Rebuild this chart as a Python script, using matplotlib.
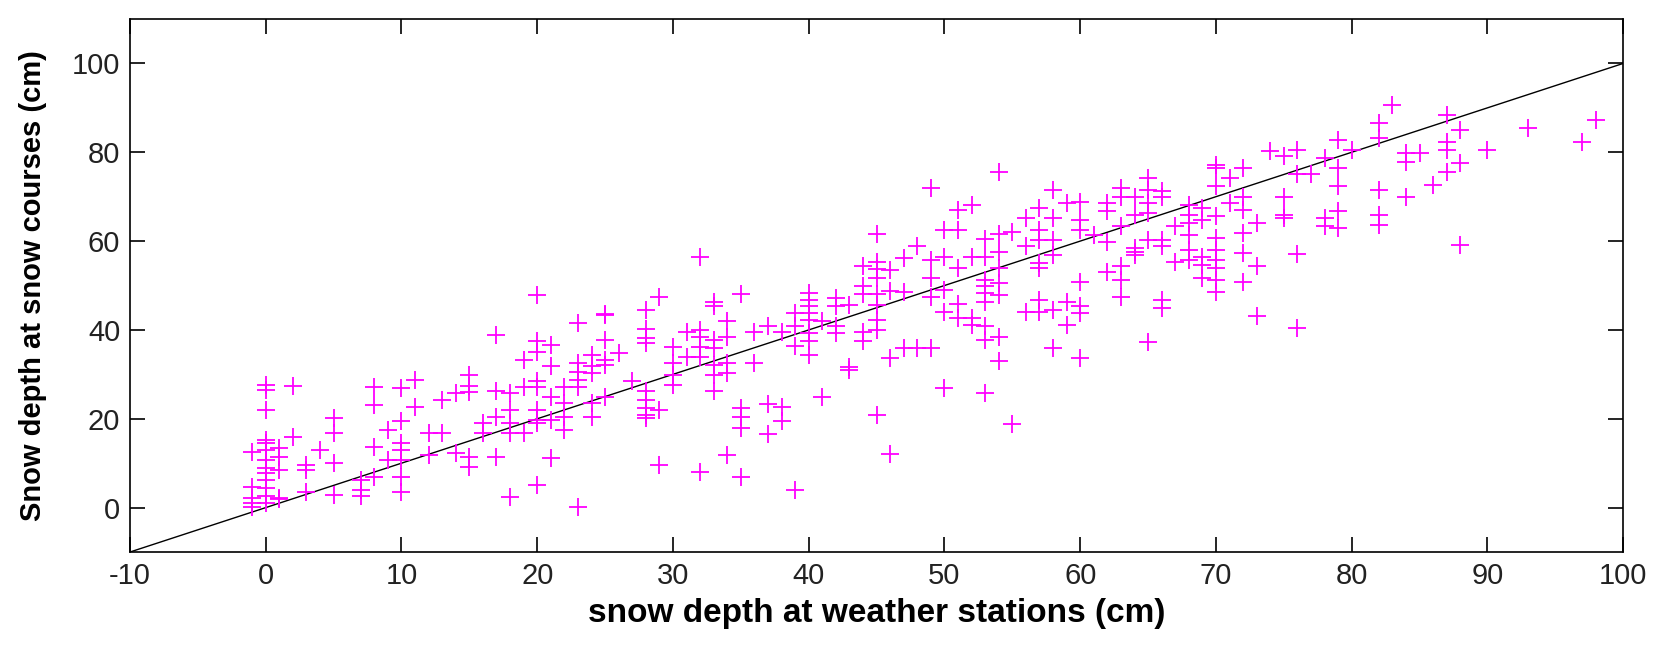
import matplotlib
matplotlib.use('Agg')
import matplotlib.pyplot as plt

# snow depth at weather stations (cm), one line per column of points
station_depth = [
    -1, -1, -1, -1, -1,
    0, 0, 0, 0, 0, 0, 0, 0, 0, 0, 0, 0, 0,
    1, 1, 1, 1, 1,
    2, 2,
    3, 3, 3,
    4,
    5, 5, 5, 5,
    7, 7, 7,
    8, 8, 8, 8,
    9, 9,
    10, 10, 10, 10, 10, 10, 10,
    11, 11,
    12, 12,
    13, 13,
    14, 14,
    15, 15, 15, 15, 15,
    16, 16,
    17, 17, 17, 17,
    18, 18, 18, 18, 18,
    19, 19, 19,
    20, 20, 20, 20, 20, 20, 20, 20, 20,
    21, 21, 21, 21, 21,
    22, 22, 22, 22,
    23, 23, 23, 23, 23, 23,
    24, 24, 24, 24, 24,
    25, 25, 25, 25, 25, 25,
    26,
    27,
    28, 28, 28, 28, 28, 28, 28, 28, 28,
    29, 29, 29,
    30, 30, 30, 30,
    31, 31,
    32, 32, 32, 32, 32, 32,
    33, 33, 33, 33, 33, 33, 33,
    34, 34, 34, 34, 34,
    35, 35, 35, 35, 35,
    36, 36,
    37, 37, 37,
    38, 38, 38,
    39, 39, 39, 39,
    40, 40, 40, 40, 40, 40, 40, 40,
    41, 41,
    42, 42, 42, 42,
    43, 43, 43,
    44, 44, 44, 44, 44,
    45, 45, 45, 45, 45, 45, 45, 45, 45,
    46, 46, 46, 46,
    47, 47, 47,
    48, 48,
    49, 49, 49, 49, 49,
    50, 50, 50, 50, 50,
    51, 51, 51, 51, 51,
    52, 52, 52, 52,
    53, 53, 53, 53, 53, 53, 53, 53, 53,
    54, 54, 54, 54, 54, 54, 54, 54,
    55, 55,
    56, 56, 56,
    57, 57, 57, 57, 57, 57, 57,
    58, 58, 58, 58, 58, 58,
    59, 59, 59,
    60, 60, 60, 60, 60, 60, 60,
    61,
    62, 62, 62, 62,
    63, 63, 63, 63, 63, 63,
    64, 64, 64, 64, 64,
    65, 65, 65, 65, 65, 65,
    66, 66, 66, 66, 66, 66,
    67, 67,
    68, 68, 68, 68, 68, 68,
    69, 69, 69, 69, 69,
    70, 70, 70, 70, 70, 70, 70, 70, 70, 70,
    71, 71,
    72, 72, 72, 72, 72, 72,
    73, 73, 73,
    74,
    75, 75, 75, 75,
    76, 76, 76, 76,
    77,
    78, 78, 78,
    79, 79, 79, 79, 79,
    80,
    82, 82, 82, 82, 82,
    83,
    84, 84, 84,
    85,
    86,
    87, 87, 87, 87,
    88, 88, 88,
    90,
    93,
    97,
    98,
]

# snow depth at snow courses (cm), same order as above
course_depth = [
    12.6, 4.7, 2.1, 1.0, 0.2,
    27.6, 26.5, 22.0, 15.2, 14.5, 13.0, 10.8, 8.9, 7.8, 6.3, 4.4, 2.5, 1.0,
    13.4, 11.5, 8.5, 2.1, 2.0,
    27.3, 15.9,
    9.6, 8.5, 3.6,
    13.0,
    20.1, 16.7, 10.0, 2.8,
    4.0, 2.5, 6.3,
    27.2, 23.0, 13.7, 7.0,
    17.5, 10.8,
    26.9, 19.4, 14.5, 13.0, 10.8, 7.0, 3.6,
    28.7, 22.7,
    16.7, 11.9,
    24.2, 16.7,
    25.7, 12.2,
    29.9, 27.3, 26.0, 11.4, 9.2,
    19.0, 16.7,
    38.9, 26.2, 20.5, 11.4,
    25.7, 22.0, 19.0, 16.7, 2.4,
    33.2, 27.2, 16.7,
    47.9, 37.4, 35.1, 28.4, 27.2, 22.0, 19.7, 19.0, 5.1,
    36.6, 31.8, 25.0, 19.7, 11.1,
    27.2, 23.5, 20.5, 17.5,
    41.5, 32.5, 30.6, 28.8, 27.2, 0.2,
    34.4, 31.8, 30.3, 23.5, 20.5,
    43.6, 43.3, 37.7, 33.2, 32.1, 25.0,
    34.8,
    28.4,
    44.4, 40.3, 38.1, 37.0, 26.2, 24.2, 22.4, 20.9, 20.2,
    47.5, 22.0, 9.6,
    36.2, 32.5, 29.9, 27.6,
    39.6, 34.0,
    56.5, 40.0, 38.5, 36.2, 34.0, 8.1,
    46.4, 45.3, 37.7, 35.9, 32.1, 29.9, 26.2,
    41.9, 38.5, 32.5, 30.3, 11.8,
    48.2, 22.4, 20.5, 17.9, 7.0,
    39.6, 32.5,
    40.8, 23.3, 16.5,
    39.6, 22.7, 19.6,
    43.8, 40.8, 36.3, 4.0,
    48.3, 46.8, 45.3, 43.8, 42.3, 39.3, 37.4, 34.4,
    41.9, 25.0,
    47.2, 45.3, 40.8, 39.3,
    45.6, 31.7, 31.0,
    54.4, 49.8, 48.0, 39.6, 37.4,
    61.7, 55.2, 53.7, 51.8, 48.0, 45.6, 42.2, 39.9, 20.9,
    53.5, 48.8, 33.6, 12.0,
    56.2, 48.6, 35.9,
    58.8, 35.9,
    71.9, 55.8, 51.7, 47.5, 36.0,
    62.5, 56.5, 48.9, 44.0, 27.0,
    67.0, 62.5, 53.9, 45.9, 42.7,
    68.2, 56.5, 42.7, 41.2,
    60.4, 56.5, 51.3, 49.8, 48.3, 46.4, 40.8, 37.8, 25.9,
    75.6, 61.7, 57.6, 53.9, 50.5, 47.9, 38.5, 32.9,
    62.1, 18.9,
    65.1, 58.8, 44.1,
    67.4, 62.5, 60.3, 55.0, 53.9, 46.8, 44.1,
    71.5, 65.1, 60.3, 56.9, 44.5, 35.9,
    68.5, 46.4, 41.2,
    68.9, 64.8, 62.5, 50.9, 45.3, 43.8, 33.6,
    61.4,
    68.5, 66.7, 59.9, 53.1,
    71.9, 70.0, 63.3, 54.3, 51.3, 47.5,
    70.0, 65.9, 58.4, 57.6, 56.9,
    74.2, 71.5, 68.5, 66.3, 60.3, 37.3,
    71.2, 70.0, 60.3, 58.8, 46.8, 44.9,
    63.3, 55.4,
    68.2, 65.9, 64.1, 61.4, 58.0, 55.8,
    67.4, 64.8, 56.5, 54.7, 51.7,
    77.2, 76.4, 72.3, 65.6, 60.7, 58.0, 55.8, 53.9, 51.3, 48.6,
    74.2, 68.5,
    76.5, 70.0, 67.1, 61.8, 57.3, 50.9,
    64.0, 54.3, 43.1,
    80.2,
    79.1, 70.0, 65.9, 65.1,
    80.5, 75.0, 57.0, 40.4,
    75.0,
    78.7, 65.1, 63.3,
    82.8, 76.5, 72.3, 66.7, 62.9,
    80.5,
    86.5, 83.2, 71.5, 65.9, 63.7,
    90.7,
    79.8, 77.9, 70.0,
    79.8,
    72.7,
    88.4, 82.4, 80.5, 75.6,
    85.0, 77.5, 59.1,
    80.5,
    85.4,
    82.4,
    87.3,
]

# 1:1 reference line
line_ends = [-10, 100]

plt.rcParams['font.family'] = ['Liberation Sans', 'DejaVu Sans']
plt.rcParams['axes.unicode_minus'] = False

fig = plt.figure(figsize=(16.58, 6.47), dpi=100)
ax = fig.add_axes([0.0784, 0.1468, 0.9006, 0.8238])

ax.plot(line_ends, line_ends, color='black', linewidth=1.0)
ax.plot(station_depth, course_depth, linestyle='none', marker='+',
        color='#ff00ff', markersize=13, markeredgewidth=1.3)

ax.set_xlim(-10, 100)
ax.set_ylim(-10, 110)
ax.set_xticks(range(-10, 101, 10))
ax.set_yticks(range(0, 101, 20))
ax.tick_params(direction='in', top=True, right=True, length=11, width=1.2,
               labelsize=21, colors='black', labelcolor='#222222', pad=7)
for s in ax.spines.values():
    s.set_linewidth(1.2)

ax.set_xlabel('snow depth at weather stations (cm)', fontsize=24, fontweight='bold', labelpad=6)
ax.set_ylabel('Snow depth at snow courses (cm)', fontsize=21, fontweight='bold', labelpad=18)

fig.savefig('out.png', dpi=100)
